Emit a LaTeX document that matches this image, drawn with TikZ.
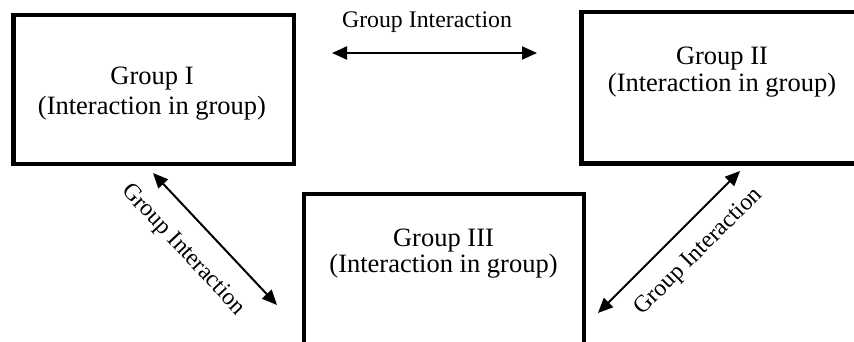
\documentclass[tikz,border=0pt]{standalone}
\usepackage{fontspec}
\setmainfont{Liberation Serif}
\usetikzlibrary{arrows.meta}

\tikzset{
  groupbox/.style={draw, line width=4.3pt, inner sep=0pt, outer sep=0pt},
  grouptext/.style={align=center, inner sep=0pt, font=\fontsize{26.5}{#1}\selectfont},
  linklabel/.style={inner sep=0pt, font=\fontsize{23.8}{28}\selectfont},
  link/.style={line width=2pt, {Triangle[length=15pt,width=13pt]}-{Triangle[length=15pt,width=13pt]}}
}

\begin{document}
\begin{tikzpicture}[x=1pt, y=-1pt]
  \useasboundingbox (0,0) rectangle (854,341);
  \clip (0,0) rectangle (854,341);

  % group boxes (II runs past the right edge, III past the bottom)
  \node[groupbox, minimum width=280.5pt, minimum height=149pt] (g1) at (153.75,89.5) {};
  \node[groupbox, minimum width=300pt, minimum height=151.5pt] (g2) at (731.5,87.75) {};
  \node[groupbox, minimum width=280pt, minimum height=180pt] (g3) at (444,284) {};

  % box captions
  \node[grouptext=30] (t1) at (152,93.5) {Group I\\(Interaction in group)};
  \node[grouptext=27] (t2) at (722,72.5) {Group II\\(Interaction in group)};
  \node[grouptext=26.5] (t3) at (443.5,253.5) {Group III\\(Interaction in group)};

  % link end points
  \coordinate (a12) at (332,53);
  \coordinate (a21) at (537,53);
  \coordinate (a13) at (153,173);
  \coordinate (a31) at (277,305);
  \coordinate (a32) at (598,313);
  \coordinate (a23) at (740,171);

  % links between groups
  \draw[link] (a12) -- (a21);
  \draw[link] (a13) -- (a31);
  \draw[link] (a32) -- (a23);

  % link labels
  \node[linklabel, anchor=base] (l12) at (427,27) {Group Interaction};
  \node[linklabel, rotate=-47] (l13) at (183,250) {Group Interaction};
  \node[linklabel, rotate=45] (l23) at (699,252) {Group Interaction};
\end{tikzpicture}
\end{document}
